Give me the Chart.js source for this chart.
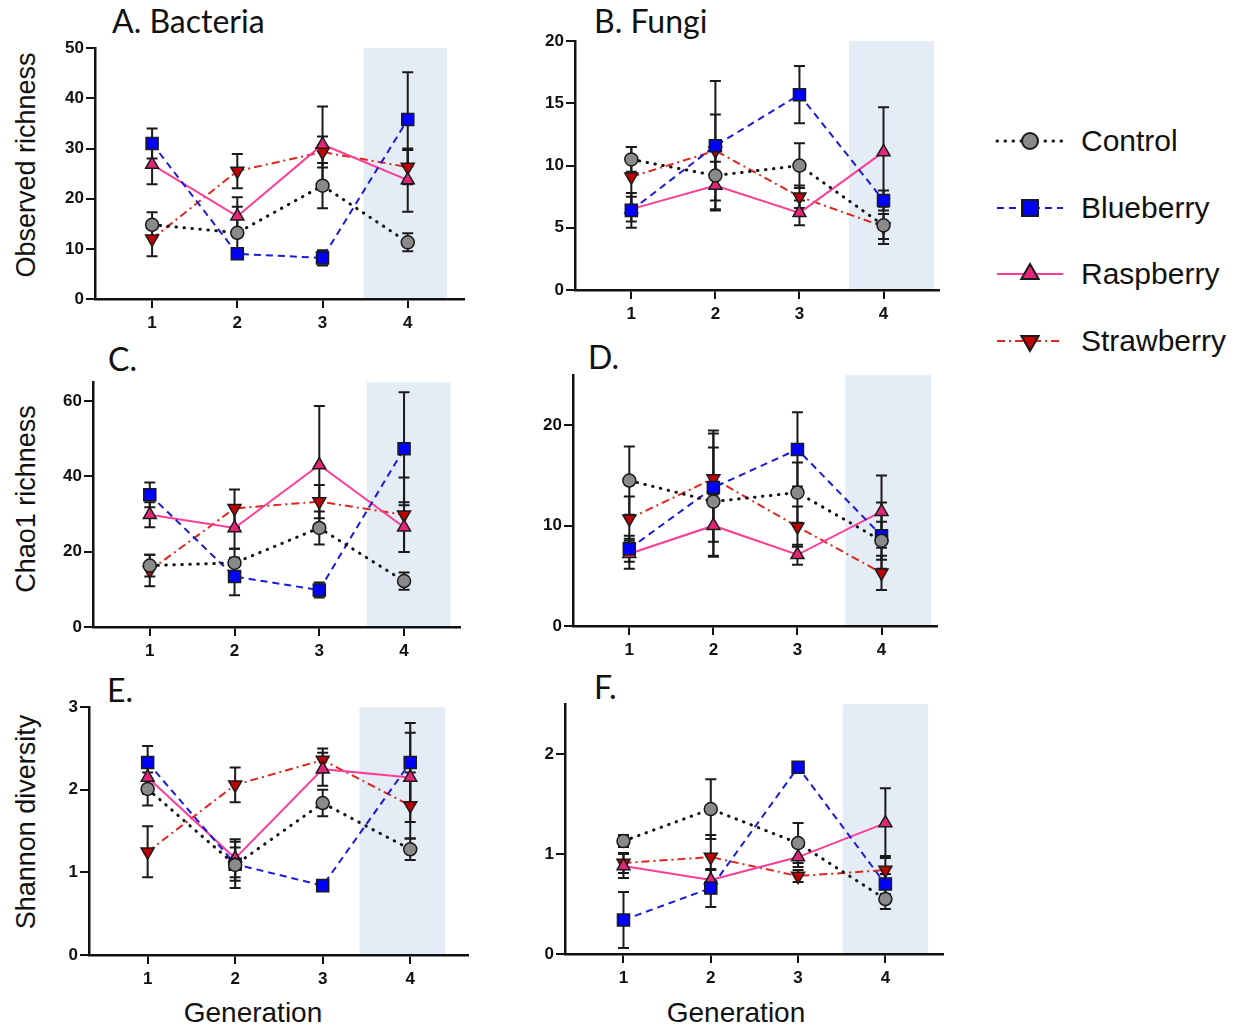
<!DOCTYPE html>
<html>
<head>
<meta charset="utf-8">
<script src="https://cdn.jsdelivr.net/npm/chart.js@4.4.0/dist/chart.umd.min.js"></script>
<style>
  html, body { margin: 0; padding: 0; background: #fff; }
  body { width: 1238px; height: 1032px; position: relative; overflow: hidden; font-family: "Liberation Sans", Arial, sans-serif; color: #111; }
  canvas { position: absolute; }
  .title { position: absolute; font-family: Lato, "Open Sans", sans-serif; font-size: 32px; line-height: 1; white-space: nowrap; }
  .ylab { position: absolute; font-size: 27px; line-height: 1; white-space: nowrap; transform: translate(-50%, -50%) rotate(-90deg); }
  .xlab { position: absolute; font-size: 28px; line-height: 1; white-space: nowrap; transform: translate(-50%, -50%); }
  .leg { position: absolute; left: 994px; height: 40px; display: flex; align-items: center; font-size: 30px; white-space: nowrap; }
  .leg svg { display: block; margin-right: 15px; }
</style>
</head>
<body>

<div class="title" style="left:112px; top:5px;">A. Bacteria</div>
<div class="title" style="left:594px; top:5px;">B. Fungi</div>
<div class="title" style="left:108px; top:343px;">C.</div>
<div class="title" style="left:588px; top:341px;">D.</div>
<div class="title" style="left:107px; top:674px;">E.</div>
<div class="title" style="left:594px; top:671px;">F.</div>

<div class="ylab" style="left:26px; top:165px;">Observed richness</div>
<div class="ylab" style="left:26px; top:499px;">Chao1 richness</div>
<div class="ylab" style="left:26px; top:822px;">Shannon diversity</div>

<div class="xlab" style="left:253px; top:1013px;">Generation</div>
<div class="xlab" style="left:736px; top:1013px;">Generation</div>

<div id="legend"></div>

<script>
// ---- data ----
const generations = [1, 2, 3, 4];
const seriesNames = ['Control', 'Blueberry', 'Raspberry', 'Strawberry'];

// A. Bacteria, observed richness
const obsBacControl = [14.8, 13.2, 22.6, 11.3];
const obsBacControlErr = [2.5, 5.2, 4.5, 1.8];
const obsBacBlueberry = [31.0, 9.0, 8.2, 35.8];
const obsBacBlueberryErr = [3.0, 0.6, 1.5, 9.4];
const obsBacRaspberry = [26.8, 16.5, 30.8, 23.7];
const obsBacRaspberryErr = [3.9, 3.8, 7.6, 6.3];
const obsBacStrawberry = [12.0, 25.5, 29.3, 26.3];
const obsBacStrawberryErr = [3.5, 3.4, 3.1, 3.4];

// B. Fungi, observed richness
const obsFunControl = [10.5, 9.2, 10.0, 5.2];
const obsFunControlErr = [1.0, 2.0, 1.8, 1.5];
const obsFunBlueberry = [6.4, 11.6, 15.7, 7.2];
const obsFunBlueberryErr = [1.4, 5.2, 2.3, 0.8];
const obsFunRaspberry = [6.5, 8.4, 6.2, 11.1];
const obsFunRaspberryErr = [1.0, 1.9, 1.0, 3.6];
const obsFunStrawberry = [9.1, 11.2, 7.5, 5.1];
const obsFunStrawberryErr = [2.4, 2.9, 0.9, 1.0];

// C. Bacteria, Chao1 richness
const chaoBacControl = [16.3, 17.0, 26.3, 12.2];
const chaoBacControlErr = [2.9, 3.8, 4.4, 2.3];
const chaoBacBlueberry = [35.1, 13.4, 9.8, 47.3];
const chaoBacBlueberryErr = [3.3, 5.0, 2.0, 15.0];
const chaoBacRaspberry = [29.8, 26.3, 43.0, 26.5];
const chaoBacRaspberryErr = [3.3, 5.5, 15.7, 6.6];
const chaoBacStrawberry = [15.0, 31.5, 33.3, 29.8];
const chaoBacStrawberryErr = [4.2, 5.0, 4.4, 9.9];

// D. Fungi, Chao1 richness
const chaoFunControl = [14.5, 12.4, 13.3, 8.5];
const chaoFunControlErr = [3.4, 5.4, 3.0, 1.9];
const chaoFunBlueberry = [7.7, 13.8, 17.6, 9.0];
const chaoFunBlueberryErr = [1.3, 5.4, 3.7, 3.3];
const chaoFunRaspberry = [7.2, 10.0, 7.1, 11.4];
const chaoFunRaspberryErr = [1.5, 3.1, 1.0, 3.6];
const chaoFunStrawberry = [10.7, 14.7, 9.9, 5.3];
const chaoFunStrawberryErr = [2.2, 4.8, 2.0, 1.7];

// E. Bacteria, Shannon diversity
const shanBacControl = [2.01, 1.09, 1.84, 1.28];
const shanBacControlErr = [0.2, 0.28, 0.16, 0.13];
const shanBacBlueberry = [2.33, 1.10, 0.84, 2.33];
const shanBacBlueberryErr = [0.2, 0.2, 0.02, 0.48];
const shanBacRaspberry = [2.15, 1.17, 2.25, 2.15];
const shanBacRaspberryErr = [0.2, 0.23, 0.2, 0.54];
const shanBacStrawberry = [1.25, 2.06, 2.36, 1.81];
const shanBacStrawberryErr = [0.31, 0.21, 0.14, 0.4];

// F. Fungi, Shannon diversity
const shanFunControl = [1.13, 1.45, 1.11, 0.55];
const shanFunControlErr = [0.06, 0.3, 0.2, 0.1];
const shanFunBlueberry = [0.34, 0.66, 1.87, 0.70];
const shanFunBlueberryErr = [0.28, 0.19, 0.0, 0.1];
const shanFunRaspberry = [0.88, 0.74, 0.97, 1.31];
const shanFunRaspberryErr = [0.12, 0.1, 0.1, 0.35];
const shanFunStrawberry = [0.91, 0.97, 0.78, 0.84];
const shanFunStrawberryErr = [0.1, 0.22, 0.06, 0.14];

// y tick labels
const ticksObsBac = [0, 10, 20, 30, 40, 50];
const ticksObsFun = [0, 5, 10, 15, 20];
const ticksChaoBac = [0, 20, 40, 60];
const ticksChaoFun = [0, 10, 20];
const ticksShanBac = [0, 1, 2, 3];
const ticksShanFun = [0, 1, 2];

// ---- styles ----
const seriesStyle = {
  Control:    { line: '#111111', fill: '#8a8a8a', dash: [0.5, 7.5], width: 3, cap: 'round', point: 'circle', radius: 6.5, rot: 0 },
  Blueberry:  { line: '#1a1ad8', fill: '#0000ff', dash: [7, 5], width: 2, cap: 'butt', point: 'rect', radius: 8.5, rot: 0 },
  Raspberry:  { line: '#ff3d96', fill: '#e4267a', dash: [], width: 2, cap: 'butt', point: 'triangle', radius: 7.5, rot: 0 },
  Strawberry: { line: '#e0261c', fill: '#c00000', dash: [8, 4, 2, 4], width: 2, cap: 'butt', point: 'triangle', radius: 7.5, rot: 180 },
};

const X_MIN = 0.33, X_MAX = 4.66;
const Y_AXIS_W = 50, X_AXIS_H = 42, PAD_T = 12, PAD_R = 10;
const CAP = 5.5;
const FONT = '"Liberation Sans", Arial, sans-serif';

const panels = [
  { left: 95,  top: 48,  bottom: 299, unit: 85.2, yMax: 50, ticks: ticksObsBac, shade: [3.48, 4.46],
    values: [obsBacControl, obsBacBlueberry, obsBacRaspberry, obsBacStrawberry],
    errors: [obsBacControlErr, obsBacBlueberryErr, obsBacRaspberryErr, obsBacStrawberryErr] },
  { left: 575, top: 41,  bottom: 290, unit: 84.0, yMax: 20, ticks: ticksObsFun, shade: [3.59, 4.6],
    values: [obsFunControl, obsFunBlueberry, obsFunRaspberry, obsFunStrawberry],
    errors: [obsFunControlErr, obsFunBlueberryErr, obsFunRaspberryErr, obsFunStrawberryErr] },
  { left: 93,  top: 382, bottom: 627, unit: 84.8, yMax: 65, ticks: ticksChaoBac, shade: [3.56, 4.55],
    values: [chaoBacControl, chaoBacBlueberry, chaoBacRaspberry, chaoBacStrawberry],
    errors: [chaoBacControlErr, chaoBacBlueberryErr, chaoBacRaspberryErr, chaoBacStrawberryErr] },
  { left: 573, top: 375, bottom: 626, unit: 84.1, yMax: 25, ticks: ticksChaoFun, shade: [3.57, 4.59],
    values: [chaoFunControl, chaoFunBlueberry, chaoFunRaspberry, chaoFunStrawberry],
    errors: [chaoFunControlErr, chaoFunBlueberryErr, chaoFunRaspberryErr, chaoFunStrawberryErr] },
  { left: 89,  top: 707, bottom: 955, unit: 87.5, yMax: 3, ticks: ticksShanBac, shade: [3.42, 4.4],
    values: [shanBacControl, shanBacBlueberry, shanBacRaspberry, shanBacStrawberry],
    errors: [shanBacControlErr, shanBacBlueberryErr, shanBacRaspberryErr, shanBacStrawberryErr] },
  { left: 565, top: 704, bottom: 954, unit: 87.2, yMax: 2.5, ticks: ticksShanFun, shade: [3.51, 4.49],
    values: [shanFunControl, shanFunBlueberry, shanFunRaspberry, shanFunStrawberry],
    errors: [shanFunControlErr, shanFunBlueberryErr, shanFunRaspberryErr, shanFunStrawberryErr] },
];

// light blue band behind generation 4
const shadePlugin = {
  id: 'shade',
  beforeDraw(chart, args, opts) {
    const { ctx, chartArea, scales } = chart;
    const x0 = scales.x.getPixelForValue(opts.from);
    const x1 = scales.x.getPixelForValue(opts.to);
    ctx.save();
    ctx.fillStyle = '#e4ecf6';
    ctx.fillRect(x0, chartArea.top, x1 - x0, chartArea.bottom - chartArea.top);
    ctx.restore();
  }
};

// vertical error bars with caps, under the lines and markers
const errorBarPlugin = {
  id: 'errorBars',
  beforeDatasetsDraw(chart) {
    const ctx = chart.ctx, y = chart.scales.y;
    ctx.save();
    ctx.strokeStyle = '#1a1a1a';
    ctx.lineWidth = 2;
    chart.data.datasets.forEach((ds, i) => {
      const meta = chart.getDatasetMeta(i);
      meta.data.forEach((pt, j) => {
        const v = ds.data[j].y, e = ds.errors[j];
        if (!e) return;
        const top = y.getPixelForValue(v + e), bot = y.getPixelForValue(v - e);
        ctx.beginPath();
        ctx.moveTo(pt.x, top); ctx.lineTo(pt.x, bot);
        ctx.moveTo(pt.x - CAP, top); ctx.lineTo(pt.x + CAP, top);
        ctx.moveTo(pt.x - CAP, bot); ctx.lineTo(pt.x + CAP, bot);
        ctx.stroke();
      });
    });
    ctx.restore();
  }
};

function axisOpts(extra) {
  return Object.assign({
    type: 'linear',
    grid: { drawOnChartArea: false, drawTicks: true, tickLength: 9, color: '#111', lineWidth: 2 },
    border: { color: '#111', width: 2.5 },
  }, extra);
}

function makePanel(p) {
  const chartW = (X_MAX - X_MIN) * p.unit;
  const chartH = p.bottom - p.top;
  const W = Math.round(Y_AXIS_W + chartW + PAD_R);
  const H = Math.round(PAD_T + chartH + X_AXIS_H);
  const canvas = document.createElement('canvas');
  canvas.width = W; canvas.height = H;
  canvas.style.width = W + 'px'; canvas.style.height = H + 'px';
  canvas.style.left = (p.left - Y_AXIS_W) + 'px';
  canvas.style.top = (p.top - PAD_T) + 'px';
  document.body.appendChild(canvas);

  const datasets = seriesNames.map((name, i) => {
    const s = seriesStyle[name];
    return {
      label: name,
      data: generations.map((g, j) => ({ x: g, y: p.values[i][j] })),
      errors: p.errors[i],
      borderColor: s.line,
      borderWidth: s.width,
      borderDash: s.dash,
      borderCapStyle: s.cap,
      tension: 0,
      fill: false,
      pointStyle: s.point,
      pointRotation: s.rot,
      pointRadius: s.radius,
      pointBackgroundColor: s.fill,
      pointBorderColor: '#1a1a1a',
      pointBorderWidth: 1.5,
      clip: false,
    };
  });

  new Chart(canvas, {
    type: 'line',
    data: { datasets },
    options: {
      responsive: false,
      animation: false,
      devicePixelRatio: 1,
      layout: { padding: { top: PAD_T, right: PAD_R, left: 0, bottom: 0 }, autoPadding: false },
      plugins: {
        legend: { display: false },
        tooltip: { enabled: false },
        shade: { from: p.shade[0], to: p.shade[1] },
      },
      scales: {
        x: axisOpts({
          min: X_MIN, max: X_MAX,
          afterBuildTicks: s => { s.ticks = generations.map(v => ({ value: v })); },
          afterFit: s => { s.height = X_AXIS_H; },
          ticks: { color: '#111', font: { family: FONT, size: 17, weight: 'bold' }, padding: 5, maxRotation: 0, autoSkip: false },
        }),
        y: axisOpts({
          min: 0, max: p.yMax,
          afterBuildTicks: s => { s.ticks = p.ticks.map(v => ({ value: v })); },
          afterFit: s => { s.width = Y_AXIS_W; },
          ticks: { color: '#111', font: { family: FONT, size: 17, weight: 'bold' }, padding: 2, autoSkip: false },
        }),
      },
    },
    plugins: [shadePlugin, errorBarPlugin],
  });
}

panels.forEach(makePanel);

// ---- legend ----
const legendRowsY = [141, 208, 274, 341];
function markerSvg(s) {
  const cx = 36, cy = 20;
  if (s.point === 'circle') return `<circle cx="${cx}" cy="${cy}" r="8" fill="${s.fill}" stroke="#1a1a1a" stroke-width="2"/>`;
  if (s.point === 'rect') return `<rect x="${cx - 8}" y="${cy - 8}" width="16" height="16" fill="${s.fill}" stroke="#1a1a1a" stroke-width="2"/>`;
  const r = 10, k = s.rot ? -1 : 1;
  const pts = [[cx, cy - k * r], [cx + r * 0.866, cy + k * r * 0.5], [cx - r * 0.866, cy + k * r * 0.5]];
  return `<polygon points="${pts.map(q => q.join(',')).join(' ')}" fill="${s.fill}" stroke="#1a1a1a" stroke-width="2"/>`;
}
const legend = document.getElementById('legend');
seriesNames.forEach((name, i) => {
  const s = seriesStyle[name];
  const row = document.createElement('div');
  row.className = 'leg';
  row.style.top = (legendRowsY[i] - 20) + 'px';
  const dash = s.dash.length ? `stroke-dasharray="${s.dash.join(' ')}"` : '';
  row.innerHTML =
    `<svg width="72" height="40"><line x1="3" y1="20" x2="69" y2="20" stroke="${s.line}" stroke-width="${s.width}" stroke-linecap="${s.cap}" ${dash}/>` +
    markerSvg(s) + `</svg><span>${name}</span>`;
  legend.appendChild(row);
});
</script>
</body>
</html>
